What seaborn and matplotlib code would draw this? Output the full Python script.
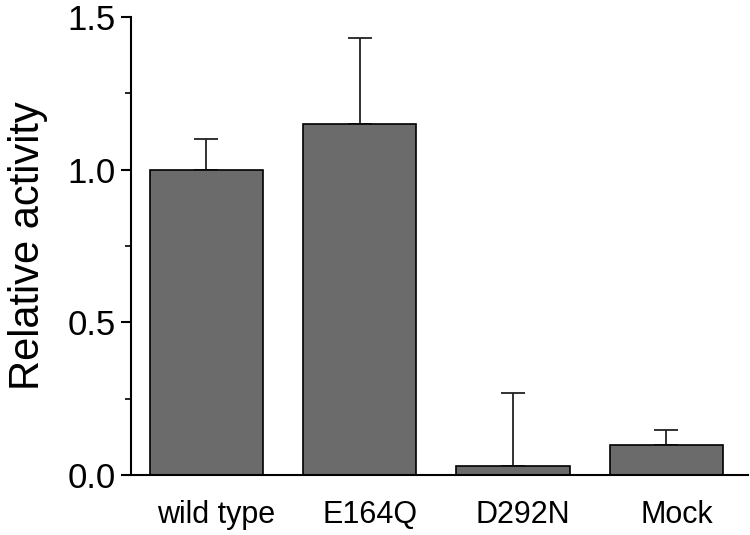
import matplotlib
matplotlib.use("Agg")
import matplotlib.pyplot as plt
import matplotlib.transforms as mtransforms
import numpy as np
import pandas as pd
import seaborn as sns
from matplotlib.ticker import MultipleLocator

sns.set_style("ticks")
plt.rcParams['font.family'] = ['Liberation Sans', 'DejaVu Sans']
plt.rcParams['text.color'] = 'black'
plt.rcParams['xtick.color'] = 'black'
plt.rcParams['ytick.color'] = 'black'
plt.rcParams['axes.labelcolor'] = 'black'

# data
samples = ['wild type', 'E164Q', 'D292N', 'Mock']
activity = [1.00, 1.15, 0.03, 0.10]
err_upper = [0.10, 0.28, 0.24, 0.047]

df = pd.DataFrame({'sample': samples, 'activity': activity})

fig = plt.figure(figsize=(7.5, 5.35), dpi=100)
ax = fig.add_axes([0.175, 0.112, 0.822, 0.856])

sns.barplot(data=df, x='sample', y='activity', order=samples, color='#6b6b6b',
            saturation=1, width=0.74, edgecolor='black', linewidth=1.2,
            errorbar=None, ax=ax)

# upper-only error bars
xpos = np.arange(len(samples))
ax.errorbar(xpos, activity, yerr=[np.zeros(len(err_upper)), err_upper],
            fmt='none', ecolor='#222222', elinewidth=1.3, capsize=8.5,
            capthick=1.3, zorder=1)
for p in ax.patches:
    p.set_zorder(2)

ax.set_ylim(0, 1.5)
ax.set_xlim(-0.49, 3.53)
ax.set_yticks([0, 0.5, 1.0, 1.5])
ax.set_yticklabels(['0.0', '0.5', '1.0', '1.5'])
ax.yaxis.set_minor_locator(MultipleLocator(0.25))

ax.set_xlabel('')
ax.set_ylabel('Relative activity', fontsize=30, labelpad=14)
ax.tick_params(axis='y', which='major', length=7, width=1.5, labelsize=25, pad=4)
ax.tick_params(axis='y', which='minor', length=4, width=1.2)
ax.tick_params(axis='x', length=0, labelsize=22, pad=18)

# labels sit a little right of the bar centres in the original
shift = mtransforms.ScaledTranslation(10 / 100, 0, fig.dpi_scale_trans)
for lab in ax.get_xticklabels():
    lab.set_transform(lab.get_transform() + shift)

sns.despine(ax=ax)
for s in ['left', 'bottom']:
    ax.spines[s].set_linewidth(1.5)
    ax.spines[s].set_color('black')

fig.savefig('out.png', dpi=100)
